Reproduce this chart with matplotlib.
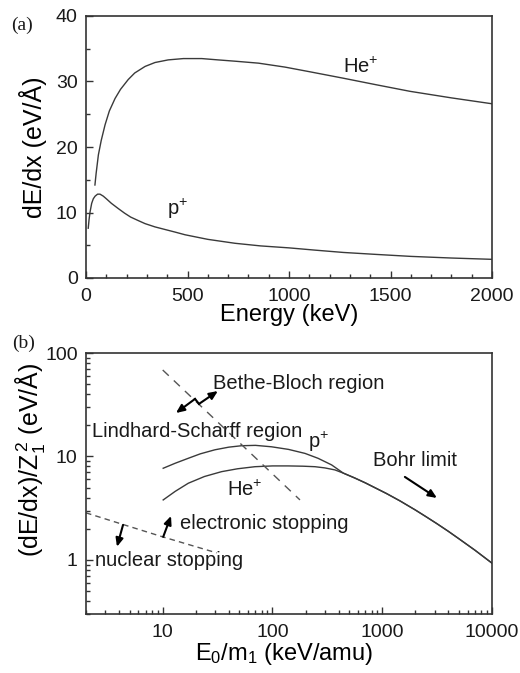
import matplotlib
matplotlib.use("Agg")
import matplotlib.pyplot as plt
from matplotlib.ticker import FixedLocator, NullFormatter, LogLocator

plt.rcParams['font.family'] = ['Liberation Sans', 'DejaVu Sans']
plt.rcParams['mathtext.fontset'] = 'custom'
plt.rcParams['mathtext.rm'] = 'Liberation Sans'
plt.rcParams['mathtext.it'] = 'Liberation Sans:italic'
plt.rcParams['mathtext.bf'] = 'Liberation Sans:bold'

# ---------------- data: panel (a) ----------------
he_energy = [44, 50, 61, 75, 94, 115, 143, 170, 208, 240, 291, 340, 405, 480, 570, 650, 734, 850, 980, 1100, 1268, 1430, 1596, 1800, 2000]
he_dedx = [14.2, 16.0, 18.8, 21.0, 23.4, 25.5, 27.4, 28.8, 30.3, 31.3, 32.3, 32.9, 33.3, 33.5, 33.5, 33.3, 33.1, 32.8, 32.2, 31.5, 30.5, 29.5, 28.5, 27.5, 26.6]
p_energy = [11, 15, 20, 28, 36, 45, 57, 69, 85, 100, 125, 159, 190, 220, 255, 291, 340, 390, 440, 488, 600, 734, 860, 1000, 1130, 1268, 1430, 1600, 1800, 2000]
p_dedx = [7.6, 8.9, 10.1, 11.4, 12.1, 12.5, 12.8, 12.8, 12.5, 12.1, 11.4, 10.6, 9.9, 9.3, 8.8, 8.3, 7.8, 7.4, 7.0, 6.6, 5.9, 5.3, 4.9, 4.6, 4.25, 3.9, 3.6, 3.3, 3.05, 2.85]
a_xticks = [0, 500, 1000, 1500, 2000]
a_yticks = [0, 10, 20, 30, 40]

# ---------------- data: panel (b) ----------------
pb_x = [10.1, 13, 17.1, 22, 29.9, 40, 52.4, 70, 98, 140, 198, 260, 346, 442, 560, 700, 880, 1094, 1450, 2000, 2500, 3128, 4000, 5000, 7000, 10000]
pb_y = [7.69, 8.6, 9.6, 10.6, 11.6, 12.3, 12.7, 12.8, 12.4, 11.7, 10.7, 9.6, 8.28, 6.9, 6.2, 5.56, 4.92, 4.38, 3.72, 3.04, 2.62, 2.25, 1.89, 1.60, 1.24, 0.93]
heb_x = [10.1, 13, 17.1, 24, 34.4, 48, 69.2, 100, 139, 190, 244, 300, 371, 442, 560, 700, 880, 1094, 1450, 2000, 2500, 3128, 4000, 5000, 7000, 10000]
heb_y = [3.80, 4.6, 5.51, 6.4, 7.13, 7.6, 7.96, 8.1, 8.1, 8.05, 7.96, 7.75, 7.41, 6.9, 6.2, 5.56, 4.92, 4.38, 3.72, 3.04, 2.62, 2.25, 1.89, 1.60, 1.24, 0.93]
bethe_x = [10, 178]
bethe_y = [68.5, 3.8]
nuclear_x = [2, 4.35, 10, 31]
nuclear_y = [2.85, 2.2, 1.67, 1.17]
b_xticks = [10, 100, 1000, 10000]
b_xticklabels = ['10', '100', '1000', '10000']
b_yticks = [1, 10, 100]
b_yticklabels = ['1', '10', '100']

curve_color = '#3a3a3a'
spine_color = '#333333'
tick_fs = 14
ann_fs = 14.5
xlab_fs = 17
ylab_fs = 18

fig = plt.figure(figsize=(5.2, 6.73), dpi=100)
ax1 = fig.add_axes([86/520, 1-278/673, 406/520, 262/673])
ax2 = fig.add_axes([86/520, 1-614/673, 406/520, 261/673])

for ax in (ax1, ax2):
    for s in ax.spines.values():
        s.set_color(spine_color)
        s.set_linewidth(1.2)
    ax.tick_params(which='both', direction='in', top=False, right=False, colors=spine_color,
                   labelcolor='#1a1a1a', labelsize=tick_fs, width=1.0)
    ax.tick_params(which='major', length=5)
    ax.tick_params(which='minor', length=3)
    ax.tick_params(axis='x', pad=7)
    ax.tick_params(axis='y', pad=6)

# ---------- panel (a) ----------
ax1.plot(he_energy, he_dedx, color=curve_color, lw=1.0)
ax1.plot(p_energy, p_dedx, color=curve_color, lw=1.0)
ax1.set_xlim(0, 2000)
ax1.set_ylim(0, 40)
ax1.set_xticks(a_xticks)
ax1.set_yticks(a_yticks)
ax1.xaxis.set_minor_locator(FixedLocator(range(0, 2001, 100)))
ax1.yaxis.set_minor_locator(FixedLocator(range(0, 41, 5)))
ax1.set_xlabel('Energy (keV)', fontsize=xlab_fs)
ax1.set_ylabel('dE/dx (eV/Å)', fontsize=ylab_fs)
ax1.xaxis.set_label_coords(0.5, -0.1)
ax1.yaxis.set_label_coords(-0.097, 0.5)
ax1.text(1266, 31.3, 'He$^{+}$', fontsize=ann_fs, color='#1a1a1a')
ax1.text(399, 9.6, 'p$^{+}$', fontsize=ann_fs, color='#1a1a1a')
fig.text(22/520, 1-25/673, '(a)', fontsize=14, family=['Liberation Serif', 'DejaVu Serif'],
         ha='center', va='center', color='#1a1a1a')

# ---------- panel (b) ----------
ax2.set_xscale('log')
ax2.set_yscale('log')
ax2.plot(pb_x, pb_y, color=curve_color, lw=1.0)
ax2.plot(heb_x, heb_y, color=curve_color, lw=1.0)
ax2.plot(bethe_x, bethe_y, color='#555555', lw=1.0, ls=(0, (6, 5)))
ax2.plot(nuclear_x, nuclear_y, color='#555555', lw=1.0, ls=(0, (4, 3)))
ax2.set_xlim(2, 10000)
ax2.set_ylim(0.3, 100)
ax2.set_xticks(b_xticks)
ax2.set_xticklabels(b_xticklabels)
ax2.set_yticks(b_yticks)
ax2.set_yticklabels(b_yticklabels)
ax2.xaxis.set_minor_locator(LogLocator(base=10, subs=range(2, 10), numticks=20))
ax2.yaxis.set_minor_locator(LogLocator(base=10, subs=range(2, 10), numticks=20))
ax2.xaxis.set_minor_formatter(NullFormatter())
ax2.yaxis.set_minor_formatter(NullFormatter())
ax2.set_xlabel('E$_0$/m$_1$ (keV/amu)', fontsize=xlab_fs)
ax2.set_ylabel('(dE/dx)/Z$_1^{\\,2}$ (eV/Å)', fontsize=ylab_fs)
ax2.xaxis.set_label_coords(0.488, -0.105)
ax2.yaxis.set_label_coords(-0.097, 0.59)

tc = '#1a1a1a'
ax2.text(28.7, 44.6, 'Bethe-Bloch region', fontsize=ann_fs, color=tc)
ax2.text(2.25, 15.3, 'Lindhard-Scharff region', fontsize=ann_fs, color=tc)
ax2.text(210, 12.0, 'p$^{+}$', fontsize=ann_fs, color=tc)
ax2.text(822, 8.1, 'Bohr limit', fontsize=ann_fs, color=tc)
ax2.text(38.2, 4.12, 'He$^{+}$', fontsize=ann_fs, color=tc)
ax2.text(14.4, 2.01, 'electronic stopping', fontsize=ann_fs, color=tc)
ax2.text(2.42, 0.875, 'nuclear stopping', fontsize=ann_fs, color=tc)

arrow = dict(arrowstyle='-|>,head_length=0.5,head_width=0.22', color='black', lw=1.5,
             shrinkA=0, shrinkB=0)
# Bethe-Bloch / Lindhard-Scharff double arrow with break
ax2.annotate('', xy=(13.2, 26.3), xytext=(19.7, 36.0), arrowprops=arrow)
ax2.plot([19.7, 21.4], [36.0, 32.2], color='black', lw=1.5)
ax2.annotate('', xy=(31.8, 42.9), xytext=(21.4, 32.2), arrowprops=arrow)
# Bohr limit arrow
ax2.annotate('', xy=(3148, 3.97), xytext=(1608, 6.34), arrowprops=arrow)
# electronic stopping arrow
ax2.annotate('', xy=(11.9, 2.66), xytext=(10.1, 1.67), arrowprops=arrow)
# nuclear stopping arrow
ax2.annotate('', xy=(3.83, 1.34), xytext=(4.35, 2.18), arrowprops=arrow)

fig.text(24/520, 1-343/673, '(b)', fontsize=14, family=['Liberation Serif', 'DejaVu Serif'],
         ha='center', va='center', color='#1a1a1a')

fig.savefig('out.png', dpi=100)
